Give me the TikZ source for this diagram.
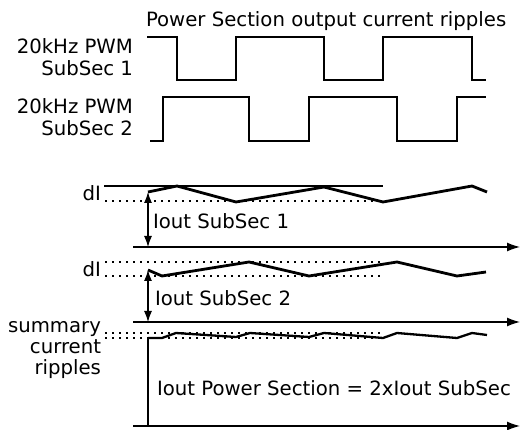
\documentclass[tikz,border=0pt]{standalone}
\usepackage{fontspec}
\setmainfont{DejaVu Sans}
\usetikzlibrary{arrows.meta}

\begin{document}
\begin{tikzpicture}[x=1pt,y=-1pt,
  lbl/.style={font=\fontsize{19.7}{22}\selectfont, inner sep=0pt, outer sep=0pt},
  pwm/.style={line width=1.3pt, line join=miter},
  ripple/.style={line width=2.8pt, line join=miter},
  level/.style={line width=1.2pt, dash pattern=on 1.5pt off 5.5pt},
  axis/.style={line width=1.3pt, -{Latex[length=13pt,width=9pt]}},
  span/.style={line width=1.2pt, {Latex[length=11pt,width=8pt]}-{Latex[length=11pt,width=8pt]}}]
\useasboundingbox (0,0) rectangle (531,430);
\fill[white] (0,0) rectangle (531,430);

% heading
\node[lbl, anchor=base west] (title) at (146,27) {Power Section output current ripples};

% gate signals of the two sub-sections (anchored on the last line)
\node[lbl, anchor=base east, align=right] (pwmA) at (133,76) {20kHz PWM\\SubSec 1};
\node[lbl, anchor=base east, align=right] (pwmB) at (133,136) {20kHz PWM\\SubSec 2};

\draw[pwm] (147,37) -- (177,37) -- (177,80) -- (236,80) -- (236,37) -- (324,37)
  -- (324,80) -- (383,80) -- (383,37) -- (472,37) -- (472,80) -- (486,80);
\draw[pwm] (150,141) -- (163,141) -- (163,97) -- (249,97) -- (249,141) -- (309,141)
  -- (309,97) -- (397,97) -- (397,141) -- (457,141) -- (457,97) -- (486,97);

% sub-section 1 current
\coordinate (r1s) at (148,192);
\coordinate (r1b) at (148,247);
\coordinate (ax1l) at (133,247);
\coordinate (ax1r) at (520,247);
\draw[ripple] (104,186) -- (383,186);
\draw[level] (105,201) -- (383,201);
\node[lbl, anchor=base east] (dIa) at (101,201) {dI};
\draw[ripple] (r1s) -- (177,186) -- (236,202) -- (324,187) -- (383,202) -- (472,186) -- (487,192);
\draw[span] (r1s) -- (r1b);
\draw[axis] (ax1l) -- (ax1r);
\node[lbl, anchor=base west] (ioutA) at (153,229) {Iout SubSec 1};

% sub-section 2 current
\coordinate (r2s) at (148,270);
\coordinate (r2b) at (148,322);
\coordinate (ax2l) at (133,322);
\coordinate (ax2r) at (520,322);
\draw[level] (105,262) -- (383,262);
\draw[level] (105,276) -- (383,276);
\node[lbl, anchor=base east] (dIb) at (101,277) {dI};
\draw[ripple] (r2s) -- (162,276) -- (249,262) -- (309,276) -- (397,262) -- (457,276) -- (486,272);
\draw[span] (r2s) -- (r2b);
\draw[axis] (ax2l) -- (ax2r);
\node[lbl, anchor=base west] (ioutB) at (155,306) {Iout SubSec 2};

% summed output current
\coordinate (r3s) at (148,338);
\coordinate (r3b) at (148,426);
\coordinate (ax3l) at (133,426);
\coordinate (ax3r) at (520,426);
\draw[level] (105,333) -- (383,333);
\draw[level] (105,338) -- (383,338);
\node[lbl, anchor=base east, align=right, font=\fontsize{19.7}{21}\selectfont] (sumlbl) at (101,375) {summary\\current\\ripples};
\draw[ripple, line width=2.3pt] (r3s) -- (162,338) -- (176,333) -- (236,337) -- (250,333) -- (309,337)
  -- (324,333) -- (383,338) -- (397,333) -- (457,338) -- (472,333) -- (487,335);
\draw[pwm] (r3s) -- (r3b);
\draw[axis] (ax3l) -- (ax3r);
\node[lbl, anchor=base west] (ioutT) at (157,396) {Iout Power Section = 2xIout SubSec};
\end{tikzpicture}
\end{document}
